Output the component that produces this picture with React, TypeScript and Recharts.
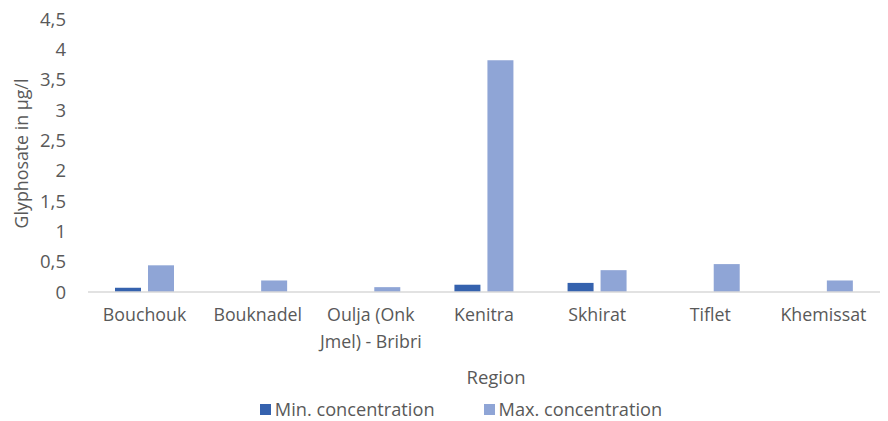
import { BarChart, Bar, XAxis, YAxis, Legend, Label } from 'recharts';

const regions = ['Bouchouk', 'Bouknadel', 'Oulja (Onk Jmel) - Bribri', 'Kenitra', 'Skhirat', 'Tiflet', 'Khemissat'];
const minConcentration = [0.07, 0, 0, 0.12, 0.15, 0, 0];
const maxConcentration = [0.44, 0.19, 0.08, 3.82, 0.36, 0.46, 0.19];
const yTicks = [0, 0.5, 1, 1.5, 2, 2.5, 3, 3.5, 4, 4.5];

// wrapped tick lines, as in the source chart
const tickLines: Record<string, string[]> = {
  'Oulja (Onk Jmel) - Bribri': ['Oulja (Onk', 'Jmel) - Bribri'],
};

const data = regions.map((region, i) => ({
  region,
  min: minConcentration[i],
  max: maxConcentration[i],
}));

const FONT = '"Open Sans", sans-serif';
const GREY = '#595959';
const MIN_COLOR = '#3562AE';
const MAX_COLOR = '#8FA5D6';
const FS = 17.8;

function RegionTick({ x, y, payload }: any) {
  const lines = tickLines[payload.value] ?? [payload.value];
  return (
    <text x={x} y={y} textAnchor="middle" fill={GREY} fontSize={FS} fontFamily={FONT}>
      {lines.map((line, i) => (
        <tspan key={i} x={x} dy={i === 0 ? 21 : 27}>
          {line}
        </tspan>
      ))}
    </text>
  );
}

function YTitle({ viewBox }: any) {
  const cy = viewBox.y + viewBox.height / 2 - 2;
  return (
    <text
      x={21}
      y={cy}
      transform={`rotate(-90, 21, ${cy})`}
      textAnchor="middle"
      dominantBaseline="central"
      fill={GREY}
      fontSize={FS}
      fontFamily={FONT}
    >
      Glyphosate in µg/l
    </text>
  );
}

function LegendBox() {
  const items = [
    { label: 'Min. concentration', color: MIN_COLOR },
    { label: 'Max. concentration', color: MAX_COLOR },
  ];
  return (
    <div style={{ display: 'flex', justifyContent: 'center', gap: 49, fontFamily: FONT, fontSize: 18.2, color: GREY, paddingLeft: 42 }}>
      {items.map((it) => (
        <div key={it.label} style={{ display: 'flex', alignItems: 'center' }}>
          <span style={{ width: 11, height: 11, background: it.color, display: 'inline-block', marginRight: 4 }} />
          {it.label}
        </div>
      ))}
    </div>
  );
}

export default function App() {
  return (
    <div style={{ position: 'absolute', left: 0, top: 0, background: '#fff' }}>
      <BarChart
        width={888}
        height={421}
        data={data}
        margin={{ top: 19, right: 8, bottom: 0, left: 0 }}
        barSize={26}
        barGap={7}
      >
        <XAxis
          dataKey="region"
          interval={0}
          tickLine={false}
          axisLine={{ stroke: '#D9D9D9', strokeWidth: 1.5 }}
          tick={<RegionTick />}
          height={105}
        >
          <Label
            value="Region"
            position="insideBottom"
            offset={13}
            dx={12}
            fill={GREY}
            fontSize={18.5}
            fontFamily={FONT}
          />
        </XAxis>
        <YAxis
          width={88}
          domain={[0, 4.5]}
          ticks={yTicks}
          interval={0}
          axisLine={false}
          tickLine={false}
          tickSize={0}
          tickMargin={22}
          tickFormatter={(v: number) => String(v).replace('.', ',')}
          tick={{ fill: GREY, fontSize: 18.5, fontFamily: FONT }}
        >
          <Label content={<YTitle />} />
        </YAxis>
        <Legend verticalAlign="bottom" content={<LegendBox />} />
        <Bar dataKey="min" name="Min. concentration" fill={MIN_COLOR} isAnimationActive={false} />
        <Bar dataKey="max" name="Max. concentration" fill={MAX_COLOR} isAnimationActive={false} />
      </BarChart>
    </div>
  );
}
